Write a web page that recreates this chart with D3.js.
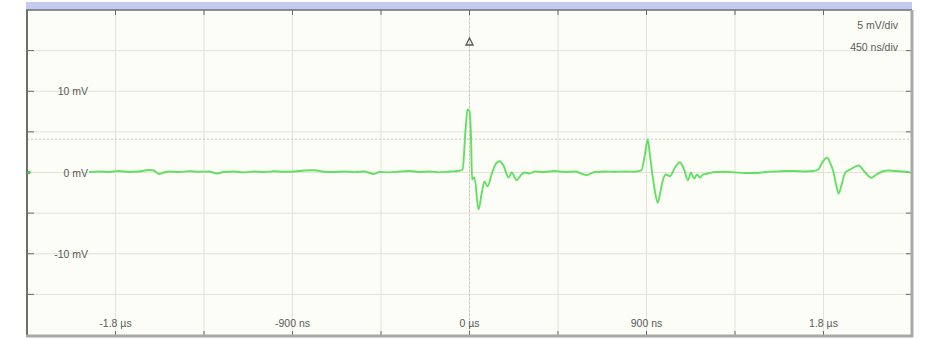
<!DOCTYPE html>
<html>
<head>
<meta charset="utf-8">
<script src="https://cdn.jsdelivr.net/npm/d3@7/dist/d3.min.js"></script>
<style>
  html, body { margin: 0; padding: 0; background: #ffffff; }
  svg { display: block; }
  text { font-family: "Liberation Sans", Arial, sans-serif; font-size: 10.5px; fill: #5a5a5a; }
</style>
</head>
<body>
<svg width="936" height="339"></svg>
<script>
// scope settings
var xTickVals = [-1800, -900, 0, 900, 1800];
var xTickLabels = ["-1.8 \u00b5s", "-900 ns", "0 \u00b5s", "900 ns", "1.8 \u00b5s"];
var yTickVals = [10, 0, -10];
var yTickLabels = ["10 mV", "0 mV", "-10 mV"];
var scaleLabels = ["5 mV/div", "450 ns/div"];
var triggerLevel = 4.1;   // mV
var triggerTime = 0;      // ns

// trace, time in ns and voltage in mV
var timeNs = [
  -1935, -1885, -1835, -1785, -1735, -1680, -1630, -1605, -1580, -1555,
  -1530, -1480, -1425, -1375, -1325, -1285, -1250, -1200, -1145, -1095,
  -1045, -995, -945, -890, -840, -790, -740, -690, -635, -585,
  -535, -485, -460, -410, -355, -305, -255, -205, -155, -100,
  -60, -35, -20, -10, 0, 8, 13, 25, 46, 61,
  76, 92, 112, 132, 153, 173, 199, 214, 240, 260,
  280, 306, 331, 382, 433, 484, 535, 596, 637, 688,
  739, 790, 841, 874, 892, 906, 917, 930, 943, 957,
  968, 984, 999, 1019, 1045, 1070, 1091, 1111, 1126, 1142,
  1157, 1172, 1187, 1213, 1249, 1300, 1350, 1401, 1452, 1503,
  1554, 1605, 1656, 1707, 1748, 1773, 1794, 1818, 1835, 1850,
  1865, 1877, 1891, 1911, 1937, 1979, 2008, 2042, 2069, 2100,
  2130, 2166, 2202, 2242
];
var volts = [
  0.06, 0.12, 0.06, 0.18, 0.06, 0.12, 0.31, 0.25, -0.18, 0.00,
  0.12, 0.06, 0.15, 0.09, 0.12, -0.12, 0.06, 0.12, 0.02, 0.12,
  0.06, 0.15, 0.09, 0.12, 0.25, 0.27, 0.10, 0.06, 0.12, 0.05,
  0.12, -0.18, 0.06, 0.02, 0.12, 0.18, 0.06, 0.12, 0.02, 0.12,
  0.18, 0.37, 5.30, 7.76, 7.52, 4.07, -0.86, -0.60, -4.56, -2.71,
  -1.11, -1.72, -0.25, 0.99, 1.39, 0.86, -0.62, 0.00, -0.95, -0.37,
  0.00, -0.12, 0.12, 0.06, 0.18, 0.06, 0.12, -0.31, 0.06, 0.12,
  0.09, 0.12, 0.10, 0.25, 2.22, 4.07, 2.22, -0.25, -2.34, -3.73,
  -2.71, -0.86, -0.25, -0.46, 0.62, 1.27, 0.37, -0.95, 0.00, -0.74,
  -0.25, -0.62, -0.25, -0.12, 0.06, 0.10, 0.02, -0.06, -0.06, 0.06,
  0.12, 0.18, 0.18, 0.12, 0.18, 0.37, 1.23, 1.81, 1.11, 0.12,
  -1.60, -2.59, -1.60, 0.00, 0.37, 0.86, 0.12, -0.65, -0.25, 0.12,
  0.25, 0.18, 0.12, 0.00
];

var svg = d3.select("svg");
var L = 27, R = 912, T = 10, B = 335;

var x = d3.scaleLinear().domain([-2250, 2250]).range([L, R]);
var y = d3.scaleLinear().domain([-20, 20]).range([B, T]);

// band above the screen
svg.append("rect").attr("x", L - 1).attr("y", 2).attr("width", R - L + 1).attr("height", T - 2)
    .style("fill", "#c3cbf0");

// screen
svg.append("rect").attr("x", L).attr("y", T).attr("width", R - L).attr("height", B - T)
    .style("fill", "#fdfdf7");

var xGrid = d3.range(-2250, 2251, 450);
var yGrid = d3.range(-20, 21, 5);

svg.append("g").selectAll("line").data(xGrid.slice(1, -1)).enter().append("line")
    .attr("x1", function (d) { return x(d); }).attr("x2", function (d) { return x(d); })
    .attr("y1", T).attr("y2", B)
    .style("stroke", "#e2e2d8").style("stroke-width", 1);
svg.append("g").selectAll("line").data(yGrid.slice(1, -1)).enter().append("line")
    .attr("y1", function (d) { return y(d); }).attr("y2", function (d) { return y(d); })
    .attr("x1", L).attr("x2", R)
    .style("stroke", "#e2e2d8").style("stroke-width", 1);

// trigger cursors
svg.append("line").attr("x1", L).attr("x2", R)
    .attr("y1", y(triggerLevel)).attr("y2", y(triggerLevel))
    .style("stroke", "#c8c8c0").style("stroke-width", 1).style("stroke-dasharray", "2,2");
svg.append("line").attr("x1", x(triggerTime)).attr("x2", x(triggerTime))
    .attr("y1", T).attr("y2", B)
    .style("stroke", "#c8c8c0").style("stroke-width", 1).style("stroke-dasharray", "2,2");

// frame ticks
var tickG = svg.append("g").style("stroke", "#666").style("stroke-width", 1);
xGrid.slice(1, -1).forEach(function (d) {
    tickG.append("line").attr("x1", x(d)).attr("x2", x(d)).attr("y1", T).attr("y2", T + 5);
    tickG.append("line").attr("x1", x(d)).attr("x2", x(d)).attr("y1", B - 4).attr("y2", B);
});
yGrid.slice(1, -1).forEach(function (d) {
    if (d !== 0) {
        tickG.append("line").attr("x1", L).attr("x2", L + 7).attr("y1", y(d)).attr("y2", y(d));
    }
    tickG.append("line").attr("x1", R - 6).attr("x2", R).attr("y1", y(d)).attr("y2", y(d));
});

// frame border
svg.append("line").attr("x1", L - 1).attr("x2", R).attr("y1", T).attr("y2", T)
    .style("stroke", "#6e6e6e").style("stroke-width", 1.5);
svg.append("line").attr("x1", L).attr("x2", L).attr("y1", T).attr("y2", B + 1)
    .style("stroke", "#6e6e6e").style("stroke-width", 2);
svg.append("line").attr("x1", R).attr("x2", R).attr("y1", T).attr("y2", B + 2)
    .style("stroke", "#a8a8a8").style("stroke-width", 3);
svg.append("line").attr("x1", L - 1).attr("x2", R + 1).attr("y1", B + 1).attr("y2", B + 1)
    .style("stroke", "#a8a8a8").style("stroke-width", 3);

// labels inside the screen
svg.append("g").selectAll("text").data(yTickVals).enter().append("text")
    .attr("x", 88).attr("y", function (d) { return y(d) + 4; })
    .attr("text-anchor", "end")
    .text(function (d, i) { return yTickLabels[i]; });
svg.append("g").selectAll("text").data(xTickVals).enter().append("text")
    .attr("x", function (d) { return x(d); }).attr("y", 327)
    .attr("text-anchor", "middle")
    .text(function (d, i) { return xTickLabels[i]; });
svg.append("g").selectAll("text").data(scaleLabels).enter().append("text")
    .attr("x", 898).attr("y", function (d, i) { return 29 + i * 22; })
    .attr("text-anchor", "end")
    .text(function (d) { return d; });

// trigger marker
var tx = x(triggerTime);
svg.append("path")
    .attr("d", "M" + tx + ",38 L" + (tx + 3.5) + ",45 L" + (tx - 3.5) + ",45 Z")
    .style("fill", "none").style("stroke", "#555").style("stroke-width", 1.3);

// channel ground marker
svg.append("circle").attr("cx", L + 2).attr("cy", y(0)).attr("r", 1.8).style("fill", "#44cc44");

// trace
var pts = timeNs.map(function (t, i) { return [t, volts[i]]; });
var line = d3.line()
    .x(function (d) { return x(d[0]); })
    .y(function (d) { return y(d[1]); })
    .curve(d3.curveMonotoneX);
svg.append("path").datum(pts)
    .attr("d", line)
    .style("fill", "none")
    .style("stroke", "#62e062")
    .style("stroke-width", 1.9)
    .style("stroke-linejoin", "round");
</script>
</body>
</html>
